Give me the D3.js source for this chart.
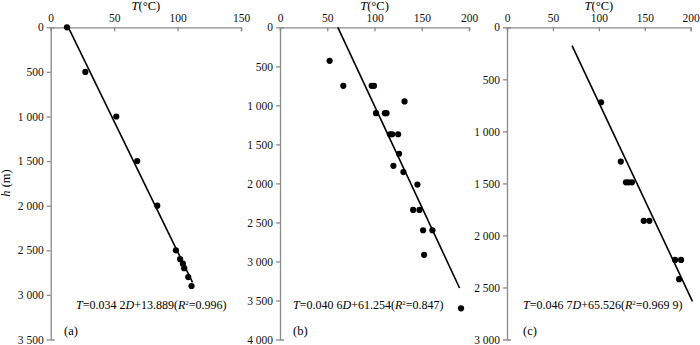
<!DOCTYPE html>
<html>
<head>
<meta charset="utf-8">
<script src="https://cdn.jsdelivr.net/npm/d3@7"></script>
<style>
  body { margin: 0; background: #fff; }
  svg text { font-family: "Liberation Serif", "Times New Roman", Times, serif; }
  .axis path, .axis line { stroke: #8a8a8a; stroke-width: 1.3; }
  .axis text { font-size: 11.5px; fill: #111; font-family: "Liberation Serif", "Times New Roman", serif; }
</style>
</head>
<body>
<svg id="chart"></svg>
<script>
// panel (a) - temperature (C) and depth (m)
const tempA = [12.8, 27.3, 51.7, 68.2, 84, 98.7, 102, 104.2, 105.2, 108.4, 111];
const depthA = [0, 500, 1000, 1500, 2000, 2500, 2600, 2650, 2700, 2800, 2900];
const fitA = [[13.9, 0], [111.8, 2860]];

// panel (b)
const tempB = [52.5, 67, 97, 99.5, 131.8, 101.6, 111, 112.7, 116.3, 118.7, 125, 126, 120, 130.6, 145.4, 140.9, 147.6, 151.4, 161.3, 152.5, 191.6];
const depthB = [430, 750, 750, 750, 950, 1100, 1100, 1100, 1370, 1370, 1370, 1620, 1775, 1855, 2015, 2340, 2340, 2600, 2600, 2915, 3600];
const fitB = [[61.2, 0], [190, 3340]];

// panel (c)
const tempC = [102.4, 123.9, 129.5, 132.5, 136, 148.9, 155, 183, 189.5, 187.4];
const depthC = [720, 1290, 1490, 1490, 1490, 1860, 1860, 2235, 2235, 2420];
const fitC = [[70.8, 176], [201.9, 2633]];

const xTicksA = [0, 50, 100, 150];
const xTicksBC = [0, 50, 100, 150, 200];
const yTicksA = [0, 500, 1000, 1500, 2000, 2500, 3000, 3500];
const yTicksB = [0, 500, 1000, 1500, 2000, 2500, 3000, 3500, 4000];
const yTicksC = [0, 500, 1000, 1500, 2000, 2500, 3000];

const formulaA = ["T", "=0.034 2", "D", "+13.889(", "R", "2", "=0.996)"];
const formulaB = ["T", "=0.040 6", "D", "+61.254(", "R", "2", "=0.847)"];
const formulaC = ["T", "=0.046 7", "D", "+65.526(", "R", "2", "=0.969 9)"];

const svg = d3.select('#chart').attr('width', 700).attr('height', 345)
  .attr('font-family', '"Liberation Serif", "Times New Roman", serif');

const spaceFmt = d3.formatLocale({ decimal: ".", thousands: " ", grouping: [3], currency: ["", ""] }).format(",");

class ProfilePanel {
  constructor(_config, _temp, _depth, _fit) {
    this.config = _config;
    this.temp = _temp;
    this.depth = _depth;
    this.fit = _fit;
    this.initVis();
  }

  initVis() {
    let vis = this;
    let c = vis.config;

    vis.xScale = d3.scaleLinear().domain(c.xDomain).range([c.left, c.right]);
    vis.yScale = d3.scaleLinear().domain(c.yDomain).range([c.top, c.bottom]);

    vis.g = svg.append('g');

    // top axis, ticks point down into the plot
    vis.g.append('g')
      .attr('class', 'axis x-axis')
      .attr('transform', `translate(0,${c.top})`)
      .call(d3.axisTop(vis.xScale).tickValues(c.xTicks).tickSizeInner(-4).tickSizeOuter(-4).tickPadding(5));

    // left axis
    vis.g.append('g')
      .attr('class', 'axis y-axis')
      .attr('transform', `translate(${c.left},0)`)
      .call(d3.axisLeft(vis.yScale).tickValues(c.yTicks).tickFormat(spaceFmt).tickSizeInner(4).tickSizeOuter(-4).tickPadding(3));

    vis.g.selectAll('.axis text').attr('font-family', null);

    // axis title
    let title = vis.g.append('text')
      .attr('x', (c.left + c.right) / 2)
      .attr('y', 10)
      .attr('text-anchor', 'middle')
      .attr('font-size', 12.5);
    title.append('tspan').attr('font-style', 'italic').text('T');
    title.append('tspan').text('(°C)');

    // regression line
    vis.line = d3.line()
      .x(d => vis.xScale(d[0]))
      .y(d => vis.yScale(d[1]));

    vis.g.append('path')
      .datum(vis.fit)
      .attr('fill', 'none')
      .attr('stroke', '#000')
      .attr('stroke-width', 1.6)
      .attr('d', vis.line);

    // measured points
    vis.g.selectAll('.pt')
      .data(d3.range(vis.temp.length))
      .join('circle')
      .attr('class', 'pt')
      .attr('cx', i => vis.xScale(vis.temp[i]))
      .attr('cy', i => vis.yScale(vis.depth[i]))
      .attr('r', 3.1)
      .attr('fill', '#000');

    // equation
    let eq = vis.g.append('text')
      .attr('x', c.eqX)
      .attr('y', 309)
      .attr('font-size', 12);
    c.formula.forEach((s, i) => {
      let t = eq.append('tspan').text(s);
      if (s === 'T' || s === 'D' || s === 'R') t.attr('font-style', 'italic');
      if (i === 5) t.attr('font-size', 7).attr('dy', -4.5);
      if (i === 6) t.attr('dy', 4.5);
    });

    vis.g.append('text')
      .attr('x', c.tagX)
      .attr('y', 335)
      .attr('font-size', 12.5)
      .text(c.tag);
  }
}

new ProfilePanel({ left: 50.7, right: 241, top: 27.3, bottom: 339.5, xDomain: [0, 150], yDomain: [0, 3500],
  xTicks: xTicksA, yTicks: yTicksA, formula: formulaA, eqX: 76, tagX: 64, tag: '(a)' }, tempA, depthA, fitA);
new ProfilePanel({ left: 280, right: 469, top: 27.3, bottom: 339.5, xDomain: [0, 200], yDomain: [0, 4000],
  xTicks: xTicksBC, yTicks: yTicksB, formula: formulaB, eqX: 293, tagX: 293, tag: '(b)' }, tempB, depthB, fitB);
new ProfilePanel({ left: 507, right: 690.7, top: 27.3, bottom: 339.5, xDomain: [0, 200], yDomain: [0, 3000],
  xTicks: xTicksBC, yTicks: yTicksC, formula: formulaC, eqX: 523, tagX: 523, tag: '(c)' }, tempC, depthC, fitC);

// shared depth label
let ylab = svg.append('text')
  .attr('transform', 'translate(10,183) rotate(-90)')
  .attr('text-anchor', 'middle')
  .attr('font-size', 12.5);
ylab.append('tspan').attr('font-style', 'italic').text('h');
ylab.append('tspan').text(' (m)');
</script>
</body>
</html>
